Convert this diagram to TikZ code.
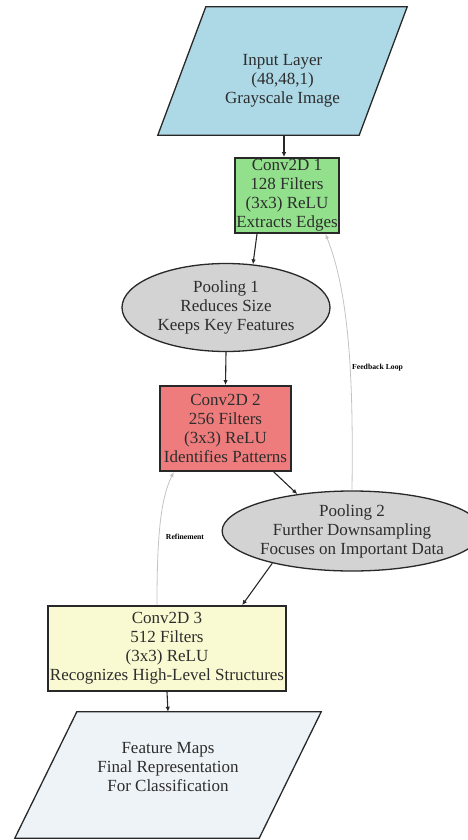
\documentclass[tikz,border=0pt]{standalone}
\usepackage{fontspec}
\setmainfont{Liberation Serif}
\usetikzlibrary{shapes.geometric,arrows.meta,backgrounds}

\definecolor{inblue}{RGB}{173,216,230}
\definecolor{convgreen}{RGB}{146,224,140}
\definecolor{convred}{RGB}{238,124,124}
\definecolor{convyellow}{RGB}{250,250,210}
\definecolor{poolgray}{RGB}{211,211,211}
\definecolor{outfill}{RGB}{238,243,247}
\definecolor{edgedark}{RGB}{40,40,40}
\definecolor{loopgray}{RGB}{195,195,195}
\definecolor{txt}{RGB}{45,45,45}

\begin{document}
\begin{tikzpicture}[x=1pt,y=-1pt,
  every node/.style={font=\fontsize{17}{19}\selectfont, text=txt, align=center, inner sep=0pt},
  layer/.style={rectangle, draw=edgedark, line width=1.8pt},
  pool/.style={ellipse, draw=edgedark, line width=1.3pt, fill=poolgray},
  slab/.style={rectangle},
  slantframe/.style={draw=edgedark, line width=1.3pt},
  flow/.style={-{Latex[length=5pt,width=4.5pt]}, line width=1.1pt, draw=edgedark},
  loop/.style={-{Latex[length=5pt,width=4pt]}, line width=0.8pt, draw=loopgray},
  tag/.style={font=\fontsize{7.7}{9}\selectfont\bfseries, text=black}
]
\useasboundingbox (0,0) rectangle (467,840);

% input and output parallelograms (text carriers; frames drawn behind)
\node[slab, minimum width=201pt, minimum height=128pt] (in) at (282.5,71)
  {\rule{0pt}{0pt}\\[12pt]Input Layer\\(48,48,1)\\Grayscale Image};
\node[slab, minimum width=244pt, minimum height=126pt] (fm) at (168,775)
  {Feature Maps\\Final Representation\\For Classification\\[-2pt]\rule{0pt}{0pt}};

\begin{scope}[on background layer]
  \draw[slantframe, fill=inblue]
    ([xshift=-24pt]in.south west) -- ([xshift=-24pt]in.south east) --
    ([xshift=24pt]in.north east) -- ([xshift=24pt]in.north west) -- cycle;
  \draw[slantframe, fill=outfill]
    ([xshift=-31pt]fm.south west) -- ([xshift=-31pt]fm.south east) --
    ([xshift=31pt]fm.north east) -- ([xshift=31pt]fm.north west) -- cycle;
\end{scope}

% convolution layers
\node[layer, fill=convgreen, minimum width=104pt, minimum height=75pt] (c1) at (287,195.5)
  {Conv2D 1\\128 Filters\\(3x3) ReLU\\Extracts Edges};
\node[layer, fill=convred, minimum width=131pt, minimum height=85pt] (c2) at (225.5,428.5)
  {Conv2D 2\\256 Filters\\(3x3) ReLU\\Identifies Patterns};
\node[layer, fill=convyellow, minimum width=238pt, minimum height=85pt] (c3) at (167,648.5)
  {Conv2D 3\\512 Filters\\(3x3) ReLU\\Recognizes High-Level Structures};

% pooling stages
\node[pool, minimum width=208pt, minimum height=88pt] (p1) at (226,307.5)
  {Pooling 1\\Reduces Size\\Keeps Key Features};
\node[pool, minimum width=228pt, minimum height=80pt] (p2) at (352,531)
  {Pooling 2\\Further Downsampling\\Focuses on Important Data};

% main flow
\draw[flow] (in.south -| 284,0) -- (c1.north -| 284,0);
\draw[flow] (c1.232) -- (p1.58);
\draw[flow] (p1.south) -- (c2.north);
\draw[flow] (c2.318) -- (p2.146);
\draw[flow] (p2.202) -- (c3.30);
\draw[flow] (c3.south) -- (fm.north);

% loops back up the stack
\draw[loop] (p2.north) .. controls (353,400) and (352,300) .. (c1.315);
\draw[loop] (c3.103) .. controls (157,540) and (160,500) .. (c2.220);
\node[tag, anchor=west] (fbtag) at (352,368) {Feedback Loop};
\node[tag] (rftag) at (185,537) {Refinement};
\end{tikzpicture}
\end{document}
